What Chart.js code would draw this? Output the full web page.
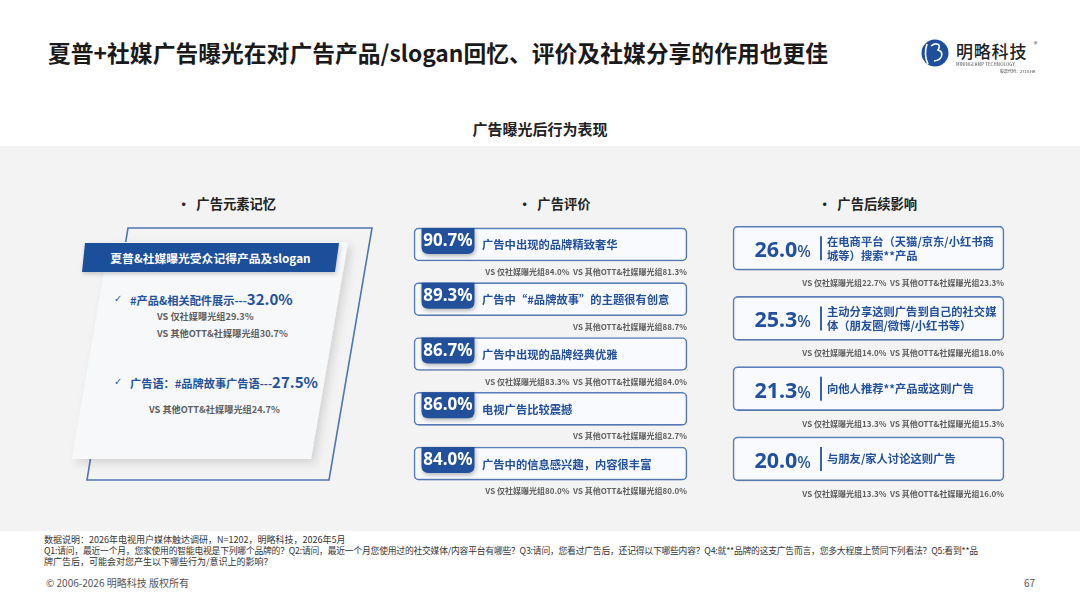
<!DOCTYPE html>
<html><head><meta charset="utf-8">
<script src="https://cdn.jsdelivr.net/npm/chart.js@4.4.1/dist/chart.umd.min.js"></script>
<style>
html,body{margin:0;padding:0;}
body{width:1080px;height:608px;position:relative;overflow:hidden;background:#fff;font-family:"Noto Sans CJK SC","Noto Sans",sans-serif;color:#222;}
.abs{position:absolute;white-space:nowrap;}
.vc{transform:translateY(-50%);}
#band{position:absolute;left:0;top:146px;width:1080px;height:385px;background:#f3f3f3;}
.title{left:48px;top:52px;font-size:22.8px;font-weight:700;color:#1a1a1a;}
.sub{left:0;width:1080px;text-align:center;top:128px;font-size:15px;font-weight:700;color:#222;}
.sec{top:203px;font-size:13.3px;font-weight:700;color:#222;}
.blue{color:#23509b;}
.vs{font-size:8px;font-weight:700;color:#5f5f5f;}
.lvs{font-size:9.2px;font-weight:700;color:#5f5f5f;}
.foot{left:44px;font-size:9px;color:#333;}
.wrapc{position:absolute;}
</style></head>
<body>
<div id="band"></div>

<!-- left panel decorations -->
<svg class="abs" style="left:0;top:0" width="1080" height="608">
  <defs>
    <filter id="sh" x="-20%" y="-20%" width="140%" height="140%">
      <feDropShadow dx="4" dy="4" stdDeviation="4" flood-color="#000" flood-opacity="0.13"/>
    </filter>
    <filter id="sh2" x="-20%" y="-20%" width="140%" height="160%">
      <feDropShadow dx="1" dy="2" stdDeviation="2" flood-color="#000" flood-opacity="0.2"/>
    </filter>
  </defs>
  <polygon points="128,228 372,228 329,480 87,480" fill="none" stroke="#4f75b2" stroke-width="1.6"/>
  <polygon points="109,242 348,242 311,459 72,459" fill="#f7f8fa" filter="url(#sh)"/>
  <polygon points="85,243 339,243 335,272 82,272" fill="#1f4f9a" filter="url(#sh2)"/>
  <!-- logo -->
  <circle cx="935" cy="53" r="13.5" fill="#1d4f9c"/>
  <path d="M927 44 C925 50 925 58 928 64" stroke="#fff" stroke-width="1.6" fill="none"/>
  <path d="M931 46 C936 42 942 44 938 50 C944 52 943 60 934 61" stroke="#fff" stroke-width="1.6" fill="none"/>
</svg>

<div class="abs vc title">夏普+社媒广告曝光在对广告产品/slogan回忆、评价及社媒分享的作用也更佳</div>
<div class="abs vc" style="left:956px;top:50px;font-size:17px;font-weight:500;color:#222;letter-spacing:0.8px;">明略科技</div>
<div class="abs vc" style="left:1034px;top:44px;font-size:7px;color:#444;">®</div>
<div class="abs" style="left:956px;top:61px;font-size:8px;color:#444;transform:scale(0.55);transform-origin:0 0;letter-spacing:0.2px;">MININGLAMP TECHNOLOGY</div>
<div class="abs" style="left:1000px;top:67.5px;font-size:8px;color:#444;transform:scale(0.5);transform-origin:0 0;">股票代码：2718.HK</div>

<div class="abs vc sub">广告曝光后行为表现</div>

<div class="abs vc sec" style="left:177px;">·&nbsp; 广告元素记忆</div>
<div class="abs vc sec" style="left:518px;">·&nbsp; 广告评价</div>
<div class="abs vc sec" style="left:818px;">·&nbsp; 广告后续影响</div>

<div class="abs vc" style="left:82px;width:257px;text-align:center;top:257px;font-size:11.8px;font-weight:700;color:#fff;">夏普&amp;社媒曝光受众记得产品及slogan</div>
<div id="recall"></div>

<div class="wrapc" id="rateWrap" style="left:410px;top:213px;width:281px;height:282px;"><canvas id="rateCanvas" width="281" height="282"></canvas></div>
<div class="wrapc" id="impWrap" style="left:729px;top:209px;width:279px;height:289px;"><canvas id="impCanvas" width="279" height="289"></canvas></div>

<div class="abs vc foot" style="top:539px;">数据说明：2026年电视用户媒体触达调研，N=1202，明略科技，2026年5月</div>
<div class="abs vc foot" style="top:550px;font-size:8.8px;letter-spacing:-0.22px;">Q1:请问，最近一个月，您家使用的智能电视是下列哪个品牌的？Q2:请问，最近一个月您使用过的社交媒体/内容平台有哪些？Q3:请问，您看过广告后，还记得以下哪些内容？Q4:就**品牌的这支广告而言，您多大程度上赞同下列看法？Q5:看到**品</div>
<div class="abs vc foot" style="top:561px;">牌广告后，可能会对您产生以下哪些行为/意识上的影响？</div>
<div class="abs vc" style="left:46px;top:582px;font-size:10px;color:#555;">© 2006-2026 明略科技 版权所有</div>
<div class="abs vc" style="left:1024px;top:582px;font-size:10px;color:#555;">67</div>

<script>
// ---------- data ----------
const recallItems = ['#产品&相关配件展示', '广告语：#品牌故事广告语'];
const recallValues = [32.0, 27.5];
const recallSocialOnly = [29.3, null];
const recallOtherOtt = [30.7, 24.7];

const ratingItems = ['广告中出现的品牌精致奢华', '广告中“#品牌故事”的主题很有创意', '广告中出现的品牌经典优雅', '电视广告比较震撼', '广告中的信息感兴趣，内容很丰富'];
const ratingValues = [90.7, 89.3, 86.7, 86.0, 84.0];
const ratingSocialOnly = [84.0, null, 83.3, null, 80.0];
const ratingOtherOtt = [81.3, 88.7, 84.0, 82.7, 80.0];

const impactItems = [
  ['在电商平台（天猫/京东/小红书商', '城等）搜索**产品'],
  ['主动分享这则广告到自己的社交媒', '体（朋友圈/微博/小红书等）'],
  ['向他人推荐**产品或这则广告'],
  ['与朋友/家人讨论这则广告']
];
const impactValues = [26.0, 25.3, 21.3, 20.0];
const impactSocialOnly = [22.7, 14.0, 13.3, 13.3];
const impactOtherOtt = [23.3, 18.0, 15.3, 16.0];

const fmt = v => v.toFixed(1) + '%';
const vsText = (a, b) => {
  const parts = [];
  if (a != null) parts.push('VS 仅社媒曝光组' + fmt(a));
  if (b != null) parts.push('VS 其他OTT&amp;社媒曝光组' + fmt(b));
  return parts.join('&nbsp;&nbsp;');
};

// ---------- left panel text ----------
(function(){
  const host = document.getElementById('recall');
  const rows = [
    {y: 298, vsX: 157, vsY: [316, 333]},
    {y: 381, vsX: 149, vsY: [409]}
  ];
  recallItems.forEach((item, i) => {
    const r = rows[i];
    host.insertAdjacentHTML('beforeend',
      `<div class="abs vc" style="left:114px;top:${r.y}px;font-size:10px;color:#2f5a9e;font-family:'DejaVu Sans';">✓</div>` +
      `<div class="abs vc blue" style="left:130px;top:${r.y}px;font-size:11.2px;font-weight:700;">${item.replace('&','&amp;')}---<span style="font-size:15px;">${fmt(recallValues[i])}</span></div>`);
    const lines = [];
    if (recallSocialOnly[i] != null) lines.push('VS 仅社媒曝光组' + fmt(recallSocialOnly[i]));
    if (recallOtherOtt[i] != null) lines.push('VS 其他OTT&amp;社媒曝光组' + fmt(recallOtherOtt[i]));
    lines.forEach((t, k) => host.insertAdjacentHTML('beforeend',
      `<div class="abs vc lvs" style="left:${r.vsX}px;top:${r.vsY[k]}px;">${t}</div>`));
  });
})();

// ---------- helpers ----------
function roundRect(ctx, x, y, w, h, r) {
  ctx.beginPath();
  ctx.moveTo(x + r.tl, y);
  ctx.lineTo(x + w - r.tr, y);
  ctx.quadraticCurveTo(x + w, y, x + w, y + r.tr);
  ctx.lineTo(x + w, y + h - r.br);
  ctx.quadraticCurveTo(x + w, y + h, x + w - r.br, y + h);
  ctx.lineTo(x + r.bl, y + h);
  ctx.quadraticCurveTo(x, y + h, x, y + h - r.bl);
  ctx.lineTo(x, y + r.tl);
  ctx.quadraticCurveTo(x, y, x + r.tl, y);
  ctx.closePath();
}

const shadowPlugin = {
  id: 'boxShadow',
  beforeDatasetsDraw(chart) {
    const ctx = chart.ctx; ctx.save();
    ctx.shadowColor = 'rgba(0,0,0,0.10)'; ctx.shadowBlur = 5; ctx.shadowOffsetY = 2; ctx.shadowOffsetX = 1;
  },
  afterDatasetsDraw(chart) { chart.ctx.restore(); }
};

function boxConfig(labels, thickness, extraPlugins) {
  return {
    type: 'bar',
    data: {
      labels: labels,
      datasets: [{
        data: labels.map(() => [0, 100]),
        backgroundColor: '#f9fafd',
        borderColor: '#5b80bf',
        borderWidth: 1.6,
        borderRadius: {topLeft: 5, topRight: 5, bottomLeft: 5, bottomRight: 5},
        borderSkipped: false,
        barThickness: thickness,
        clip: false
      }]
    },
    options: {
      indexAxis: 'y', responsive: false, maintainAspectRatio: false, animation: false,
      layout: {padding: 4},
      plugins: {legend: {display: false}, tooltip: {enabled: false}},
      scales: {
        x: {display: false, min: 0, max: 100},
        y: {display: false, offset: true}
      }
    },
    plugins: [shadowPlugin].concat(extraPlugins)
  };
}

// ---------- ratings chart ----------
const rateWrap = document.getElementById('rateWrap');
const tabPlugin = {
  id: 'tabs',
  afterDatasetsDraw(chart) {
    const ctx = chart.ctx;
    chart.getDatasetMeta(0).data.forEach(el => {
      const top = el.y - el.height / 2;
      const left = Math.min(el.base, el.x);
      ctx.save();
      ctx.shadowColor = 'rgba(0,0,0,0.28)'; ctx.shadowBlur = 4; ctx.shadowOffsetX = 1; ctx.shadowOffsetY = 2;
      ctx.fillStyle = '#23509b';
      roundRect(ctx, left + 7.5, top, 53, 26, {tl: 0, tr: 0, br: 7, bl: 7});
      ctx.fill();
      ctx.restore();
    });
  },
  afterDraw(chart) {
    if (chart._overlaid) return; chart._overlaid = true;
    const ox = rateWrap.offsetLeft, oy = rateWrap.offsetTop;
    chart.getDatasetMeta(0).data.forEach((el, i) => {
      const top = el.y - el.height / 2, bottom = el.y + el.height / 2;
      const left = Math.min(el.base, el.x), right = Math.max(el.base, el.x);
      document.body.insertAdjacentHTML('beforeend',
        `<div class="abs" style="left:${ox + left + 7.5}px;top:${oy + top}px;width:53px;height:24px;line-height:24px;text-align:center;font-size:17px;font-weight:700;color:#fff;font-family:'Noto Sans',sans-serif;">${fmt(ratingValues[i])}</div>` +
        `<div class="abs vc blue" style="left:${ox + left + 68}px;top:${oy + el.y}px;font-size:11.3px;font-weight:700;">${ratingItems[i]}</div>` +
        `<div class="abs vc vs" style="right:${1080 - (ox + right)}px;top:${oy + bottom + 10}px;">${vsText(ratingSocialOnly[i], ratingOtherOtt[i])}</div>`);
    });
  }
};
new Chart(document.getElementById('rateCanvas'), boxConfig(ratingItems, 33, [tabPlugin]));

// ---------- impact chart ----------
const impWrap = document.getElementById('impWrap');
const dividerPlugin = {
  id: 'divider',
  afterDatasetsDraw(chart) {
    const ctx = chart.ctx;
    chart.getDatasetMeta(0).data.forEach(el => {
      const left = Math.min(el.base, el.x);
      ctx.save();
      ctx.strokeStyle = '#3a63a5'; ctx.lineWidth = 2;
      ctx.beginPath();
      ctx.moveTo(left + 88, el.y - el.height / 2 + 10);
      ctx.lineTo(left + 88, el.y + el.height / 2 - 10);
      ctx.stroke();
      ctx.restore();
    });
  },
  afterDraw(chart) {
    if (chart._overlaid) return; chart._overlaid = true;
    const ox = impWrap.offsetLeft, oy = impWrap.offsetTop;
    chart.getDatasetMeta(0).data.forEach((el, i) => {
      const bottom = el.y + el.height / 2;
      const left = Math.min(el.base, el.x), right = Math.max(el.base, el.x);
      const num = impactValues[i].toFixed(1);
      document.body.insertAdjacentHTML('beforeend',
        `<div class="abs vc blue" style="right:${1080 - (ox + left + 78)}px;top:${oy + el.y}px;font-family:'Noto Sans',sans-serif;"><span style="font-size:21.5px;font-weight:700;">${num}</span><span style="font-size:16px;font-weight:500;">%</span></div>` +
        `<div class="abs vc blue" style="left:${ox + left + 94}px;top:${oy + el.y}px;font-size:11.3px;line-height:13.5px;font-weight:700;">${impactItems[i].join('<br>')}</div>` +
        `<div class="abs vc vs" style="right:${1080 - (ox + right)}px;top:${oy + bottom + 12}px;">${vsText(impactSocialOnly[i], impactOtherOtt[i])}</div>`);
    });
  }
};
new Chart(document.getElementById('impCanvas'), boxConfig(impactItems, 44, [dividerPlugin]));
</script>
</body></html>
